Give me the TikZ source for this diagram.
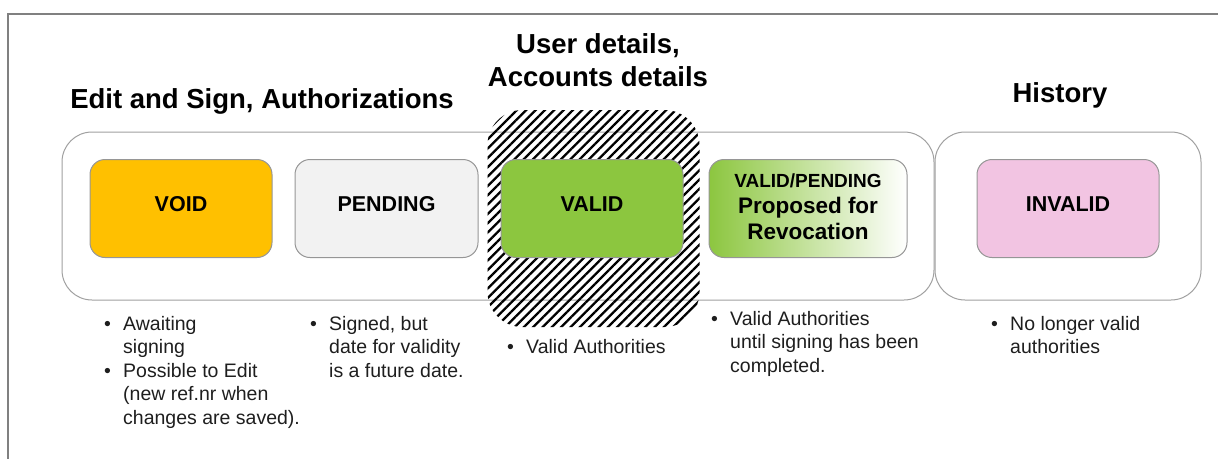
\documentclass[tikz,border=0pt]{standalone}
\usepackage{fontspec}
\setmainfont{Liberation Sans}
\usetikzlibrary{patterns.meta}

\definecolor{voidfill}{RGB}{255,192,0}
\definecolor{pendingfill}{RGB}{242,242,242}
\definecolor{validfill}{RGB}{140,198,63}
\definecolor{invalidfill}{RGB}{242,196,226}
\definecolor{boxline}{RGB}{150,150,150}
\definecolor{groupline}{RGB}{160,160,160}
\definecolor{framegray}{RGB}{128,128,128}
\definecolor{bodytext}{RGB}{30,30,30}

\tikzset{
  group/.style={draw=groupline, line width=1pt, rounded corners=30pt,
    minimum width=#1, minimum height=168pt, inner sep=0pt},
  statebox/.style={draw=boxline, line width=1pt, rounded corners=15pt,
    minimum height=98pt, inner sep=0pt, align=center,
    font=\bfseries\fontsize{21.5}{26}\selectfont},
  % lifts a one-line state name slightly above the box centre
  lifted/.style={text height=15.5pt, text depth=9pt},
  heading/.style={align=center, inner sep=0pt,
    font=\bfseries\fontsize{27.5}{33}\selectfont},
  notes/.style={anchor=base west, inner sep=0pt, text=bodytext,
    font=\fontsize{19.5}{23.5}\selectfont},
}

\newcommand{\notelist}[1]{%
  \renewcommand{\arraystretch}{1}%
  \begin{tabular}[t]{@{}p{19pt}@{}l@{}}#1\end{tabular}}

\begin{document}
\begin{tikzpicture}[x=1pt, y=-1pt]
  \useasboundingbox (0,0) rectangle (1218,459);

  % page frame (top and left edges)
  \draw[framegray, line width=2pt] (1218,14) -- (8,14) -- (8,459);

  % grouping panels
  \node[group=872pt] (editgroup) at (498,216) {};
  \node[group=266pt] (histgroup) at (1068,216) {};

  % hatched highlight around the valid state
  \node[minimum width=212pt, minimum height=217pt, inner sep=0pt,
        rounded corners=35pt,
        pattern={Lines[angle=45, distance=6.6pt, line width=2.3pt]}]
        (highlight) at (593.5,218.5) {};

  % states
  \node[statebox, lifted, fill=voidfill, minimum width=182pt] (void) at (181,208.5) {VOID};
  \node[statebox, lifted, fill=pendingfill, minimum width=183pt] (pending) at (386.5,208.5) {PENDING};
  \node[statebox, lifted, fill=validfill, minimum width=182pt] (valid) at (592,208.5) {VALID};
  \node[statebox, left color=validfill, right color=white, minimum width=198pt,
        font=\bfseries\fontsize{22.5}{26}\selectfont] (revoke) at (808,208.5)
        {\raisebox{3pt}{\begin{tabular}{@{}c@{}}%
          {\fontsize{19}{26}\selectfont VALID/PENDING}\\[-0.5pt]
          Proposed for\\[0.5pt]
          Revocation\end{tabular}}};
  \node[statebox, lifted, fill=invalidfill, minimum width=182pt] (invalid) at (1068,208.5) {INVALID};

  % headings
  \node[heading] (edithead) at (262,101) {Edit and Sign, Authorizations};
  \node[heading] (userhead) at (598,60) {User details,\\Accounts details};
  \node[heading] (histhead) at (1060,95) {History};

  % notes under each state
  \node[notes] (voidnotes) at (104,330) {\notelist{%
    \textbullet & Awaiting\\
                & signing\\
    \textbullet & Possible to Edit\\
                & (new ref.nr when\\
                & changes are saved).}};
  \node[notes] (pendingnotes) at (310,330) {\notelist{%
    \textbullet & Signed, but\\
                & date for validity\\
                & is a future date.}};
  \node[notes] (validnotes) at (507,353) {\notelist{%
    \textbullet & Valid Authorities}};
  \node[notes] (revokenotes) at (711,325) {\notelist{%
    \textbullet & Valid Authorities\\
                & until signing has been\\
                & completed.}};
  \node[notes] (invalidnotes) at (991,330) {\notelist{%
    \textbullet & No longer valid\\
                & authorities}};
\end{tikzpicture}
\end{document}
